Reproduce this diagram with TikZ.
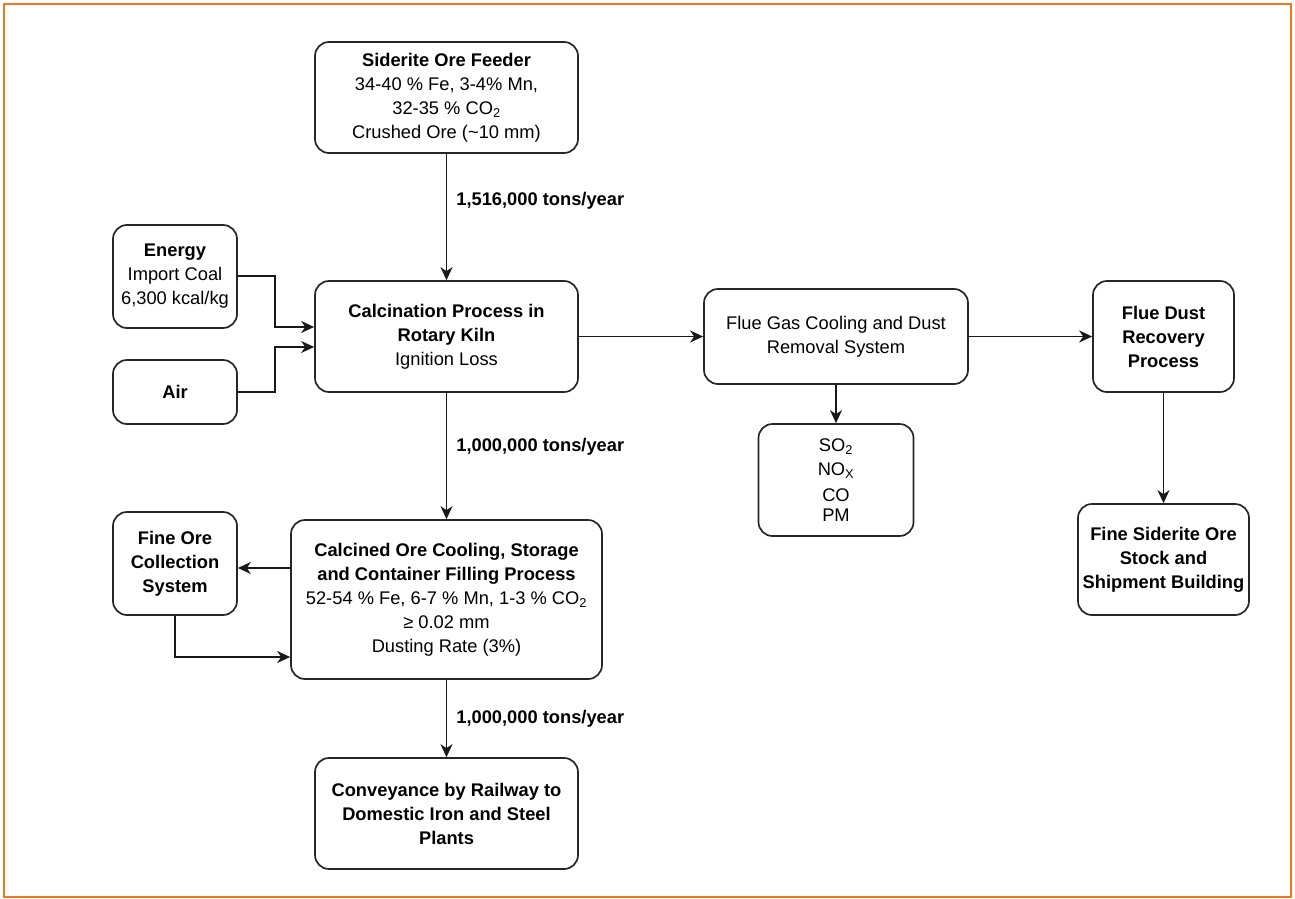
\documentclass[tikz,border=0pt]{standalone}
\usepackage{fontspec}
\setmainfont{Liberation Sans}
\usetikzlibrary{arrows.meta}
\begin{document}
\begin{tikzpicture}[x=1pt,y=-1pt,
  box/.style={draw=black!85, line width=1.7pt, rounded corners=14pt, align=center,
    inner sep=0pt, font=\fontsize{18.3}{24}\selectfont},
  arr/.style={draw=black!90, line width=1.7pt, -{Stealth[length=13pt,width=12pt,inset=4pt]}},
  lbl/.style={font=\fontsize{18.3}{24}\selectfont\bfseries, anchor=west, inner sep=0pt}]
\useasboundingbox (0,0) rectangle (1295,899);
\draw[draw={rgb,255:red,240;green,120;blue,32}, line width=2pt] (4,4) rectangle (1291,897);

\node[box, minimum width=263pt, minimum height=111pt] (sid) at (446.5,97.5)
  {\textbf{Siderite Ore Feeder}\\34-40 \% Fe, 3-4\% Mn,\\32-35 \% CO\textsubscript{2}\\Crushed Ore (\textasciitilde10 mm)};
\node[box, minimum width=124pt, minimum height=103pt] (en) at (175,276.5)
  {\textbf{Energy}\\Import Coal\\6,300 kcal/kg};
\node[box, minimum width=124pt, minimum height=64pt] (air) at (175,392)
  {\textbf{Air}};
\node[box, minimum width=263pt, minimum height=111pt] (cal) at (446.5,336.5)
  {\textbf{Calcination Process in}\\\textbf{Rotary Kiln}\\Ignition Loss};
\node[box, minimum width=264pt, minimum height=95pt] (flue) at (836,336.5)
  {Flue Gas Cooling and Dust\\Removal System};
\node[box, minimum width=155pt, minimum height=112pt] (gas) at (836,480)
  {SO\textsubscript{2}\\NO\textsubscript{X}\\[2pt]CO\\[-4pt]PM};
\node[box, minimum width=141pt, minimum height=111pt] (fdr) at (1163.5,336.5)
  {\textbf{Flue Dust}\\\textbf{Recovery}\\\textbf{Process}};
\node[box, minimum width=171pt, minimum height=111pt] (fso) at (1163.5,559.5)
  {\textbf{Fine Siderite Ore}\\\textbf{Stock and}\\\textbf{Shipment Building}};
\node[box, minimum width=124pt, minimum height=103pt] (foc) at (175,563.5)
  {\textbf{Fine Ore}\\\textbf{Collection}\\\textbf{System}};
\node[box, minimum width=311pt, minimum height=159pt] (cco) at (446.5,599.5)
  {\textbf{Calcined Ore Cooling, Storage}\\\textbf{and Container Filling Process}\\52-54 \% Fe, 6-7 \% Mn, 1-3 \% CO\textsubscript{2}\\≥ 0.02 mm\\Dusting Rate (3\%)};
\node[box, minimum width=263pt, minimum height=111pt] (conv) at (446.5,813.5)
  {\textbf{Conveyance by Railway to}\\\textbf{Domestic Iron and Steel}\\\textbf{Plants}};

\draw[arr] (sid.south) -- node[lbl, pos=0.37, xshift=9pt]{1,516,000 tons/year} (cal.north);
\draw[arr] (en.east |- 0,276) -- (275,276) -- (275,327) -- (cal.west |- 0,327);
\draw[arr] (air.east) -- (275,392) -- (275,347) -- (cal.west |- 0,347);
\draw[arr] (cal.east) -- (flue.west);
\draw[arr] (flue.east) -- (fdr.west);
\draw[arr] (flue.south) -- (gas.north);
\draw[arr] (fdr.south) -- (fso.north);
\draw[arr] (cal.south) -- node[lbl, pos=0.43, xshift=9pt]{1,000,000 tons/year} (cco.north);
\draw[arr] (cco.west |- 0,568) -- (foc.east |- 0,568);
\draw[arr] (foc.south) -- (175,657) -- (cco.west |- 0,657);
\draw[arr] (cco.south) -- node[lbl, pos=0.5, xshift=9pt]{1,000,000 tons/year} (conv.north);
\end{tikzpicture}
\end{document}
